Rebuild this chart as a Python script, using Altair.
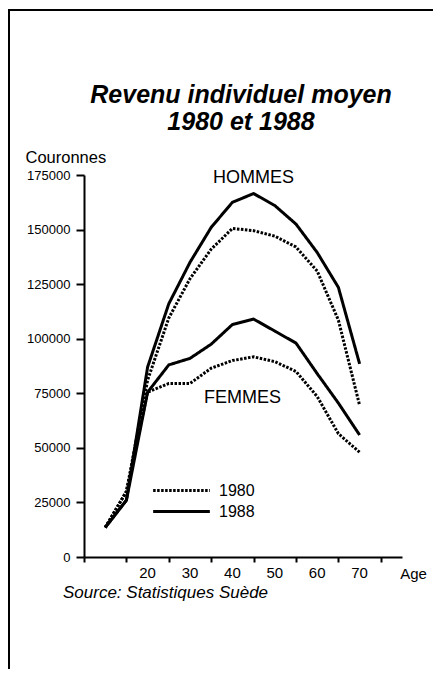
import altair as alt
import pandas as pd

# Data
ages = [10, 15, 20, 25, 30, 35, 40, 45, 50, 55, 60, 65, 70]
hommes_1988 = [13500, 26000, 87000, 116000, 135000, 151000, 162500, 166500, 161000, 152500, 139500, 123500, 88500]
hommes_1980 = [13500, 30000, 81000, 109500, 127500, 141000, 150500, 149500, 147000, 142000, 131000, 108500, 69500]
femmes_1988 = [13500, 26000, 75500, 88000, 91000, 97500, 106500, 109000, 103500, 98000, 84000, 70500, 55900]
femmes_1980 = [13500, 30000, 75500, 79500, 79500, 86500, 90000, 91700, 89500, 85000, 73500, 56500, 48000]

years = ["1980", "1988"]
y_ticks = [0, 25000, 50000, 75000, 100000, 125000, 150000, 175000]
x_ticks = list(range(5, 81, 5))
x_labelled = [20, 30, 40, 50, 60, 70]
title_lines = ["Revenu individuel moyen", "1980 et 1988"]

series = [
    ("HOMMES", "1988", hommes_1988),
    ("HOMMES", "1980", hommes_1980),
    ("FEMMES", "1988", femmes_1988),
    ("FEMMES", "1980", femmes_1980),
]
rows = []
for sex, yr, vals in series:
    for a, v in zip(ages, vals):
        rows.append({"age": a, "value": v, "sex": sex, "year": yr})
df = pd.DataFrame(rows)

labels_df = pd.DataFrame({
    "age": [45, 42.4],
    "value": [173600, 72800],
    "text": ["HOMMES", "FEMMES"],
})
xlab_df = pd.DataFrame({"age": x_labelled, "text": [str(a) for a in x_labelled]})

FONT = "Liberation Sans"
W, H = 318, 382

lines = alt.Chart(df).mark_line(strokeWidth=3, color="black", strokeCap="butt").encode(
    x=alt.X("age:Q",
            scale=alt.Scale(domain=[5, 80], nice=False, zero=False),
            axis=alt.Axis(values=x_ticks, tickSize=5, tickWidth=2, domainWidth=2,
                          domainColor="black", tickColor="black", labels=False, grid=False,
                          title="Age", titleX=329, titleY=16, titleBaseline="middle",
                          titleAlign="center", titleFontSize=15, titleFontWeight="normal",
                          titleColor="black")),
    y=alt.Y("value:Q",
            scale=alt.Scale(domain=[0, 175000], nice=False),
            axis=alt.Axis(values=y_ticks, format="d", tickSize=8, tickWidth=2, domainWidth=2,
                          domainColor="black", tickColor="black", labelColor="black",
                          labelFontSize=13, labelPadding=6, grid=False,
                          title="Couronnes", titleAngle=0, titleAlign="left",
                          titleX=-59, titleY=-18, titleBaseline="middle",
                          titleFontSize=16.5, titleFontWeight="normal", titleColor="black")),
    detail="sex:N",
    strokeDash=alt.StrokeDash("year:N",
                              scale=alt.Scale(domain=years, range=[[2.5, 1.5], [1, 0]]),
                              legend=alt.Legend(orient="none", legendX=87, legendY=305,
                                                title=None, symbolType="M-3.15,0H3.15",
                                                symbolSize=324, symbolStrokeWidth=3,
                                                symbolStrokeColor="black",
                                                symbolFillColor="transparent",
                                                labelFontSize=16, labelOffset=27,
                                                labelColor="black", padding=0,
                                                rowPadding=2)),
)

text_labels = alt.Chart(labels_df).mark_text(fontSize=18, color="black", font=FONT).encode(
    x="age:Q", y="value:Q", text="text:N"
)
x_labels = alt.Chart(xlab_df).mark_text(fontSize=15, color="black", font=FONT,
                                        baseline="middle").encode(
    x="age:Q", y=alt.value(H + 16), text="text:N"
)

one = pd.DataFrame({"k": [0]})
frame_left = alt.Chart(one).mark_rule(color="black", strokeWidth=2).encode(
    x=alt.value(-75), y=alt.value(-165), y2=alt.value(494)
)
frame_top = alt.Chart(one).mark_rule(color="black", strokeWidth=2).encode(
    x=alt.value(-76), x2=alt.value(349), y=alt.value(-165)
)
title1 = alt.Chart(one).mark_text(text=title_lines[0], align="center", baseline="middle",
                                  fontSize=25, fontStyle="italic", fontWeight="bold",
                                  color="black", font=FONT).encode(
    x=alt.value(157), y=alt.value(-80)
)
title2 = alt.Chart(one).mark_text(text=title_lines[1], align="center", baseline="middle",
                                  fontSize=25, fontStyle="italic", fontWeight="bold",
                                  color="black", font=FONT).encode(
    x=alt.value(157), y=alt.value(-53)
)
source = alt.Chart(one).mark_text(text="Source: Statistiques Suède", align="left",
                                  baseline="middle", fontSize=17, fontStyle="italic",
                                  color="black", font=FONT).encode(
    x=alt.value(-21), y=alt.value(418)
)

chart = alt.layer(lines, text_labels, x_labels, frame_left, frame_top, title1, title2,
                  source).properties(
    width=W, height=H,
    autosize=alt.AutoSizeParams(type="none"),
    padding={"left": 76, "top": 167, "right": 31, "bottom": 112},
).configure(font=FONT).configure_view(stroke=None)

chart.save("out.html", embed_options={"renderer": "svg", "actions": False})
